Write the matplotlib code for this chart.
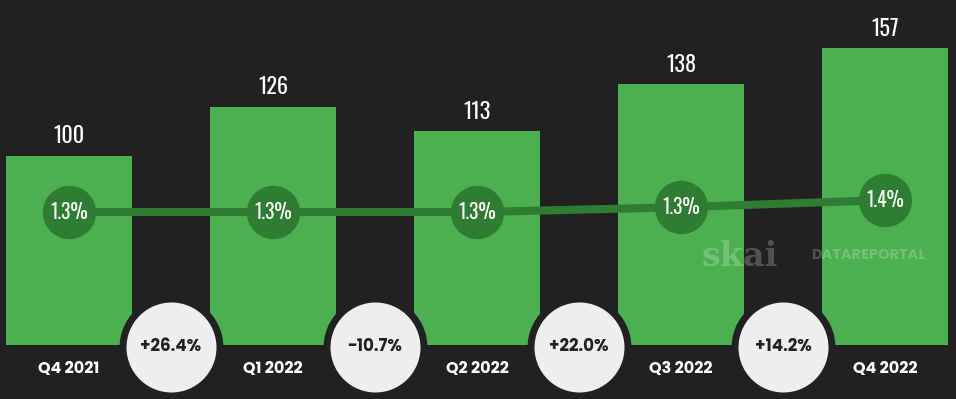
"""
Quarterly index chart with overlay rate line and change bubbles.
"""
import matplotlib
matplotlib.use("Agg")
import matplotlib.pyplot as plt
from matplotlib import font_manager

# ── Data ──────────────────────────────────────────────────────────────────────
quarters     = ["Q4 2021", "Q1 2022", "Q2 2022", "Q3 2022", "Q4 2022"]
index_values = [100, 126, 113, 138, 157]
rate_values  = [1.30, 1.30, 1.30, 1.34, 1.40]
rate_labels  = ["1.3%", "1.3%", "1.3%", "1.3%", "1.4%"]
changes      = ["+26.4%", "-10.7%", "+22.0%", "+14.2%"]

# ── Style ─────────────────────────────────────────────────────────────────────
BG        = "#212121"
BAR_GREEN = "#4caf50"
DARK      = "#2e7d32"
BUBBLE    = "#eeeeee"


def pick(*fams):
    names = {f.name for f in font_manager.fontManager.ttflist}
    for f in fams:
        if f in names:
            return f
    return "DejaVu Sans"


NARROW = pick("Oswald", "Roboto Condensed", "Archivo Narrow", "Asap Condensed")
BOLD   = pick("Poppins", "Lato")

fig = plt.figure(figsize=(9.56, 3.99), dpi=100, facecolor=BG)
ax = fig.add_axes([0, 0, 1, 1])
ax.set_facecolor(BG)
ax.axis("off")

x = list(range(len(quarters)))
ax.bar(x, index_values, width=0.617, color=BAR_GREEN, zorder=1)
ax.set_xlim(-0.338, 4.348)
ax.set_ylim(-28.6, 182.5)

for xi, v in zip(x, index_values):
    ax.text(xi, v + 4.5, f"{v}", ha="center", va="bottom", color="white",
            fontsize=16, family=NARROW, fontweight="light", zorder=5)

for xi, q in zip(x, quarters):
    ax.text(xi, -12.5, q, ha="center", va="center", color="white",
            fontsize=11.5, fontweight="bold", family=BOLD, zorder=5)

# change bubbles between bars
mids = [i + 0.5 for i in range(len(changes))]
ax.scatter(mids, [-1] * len(mids), s=69.8 ** 2, color=BUBBLE,
           edgecolor=BG, linewidth=5.0, zorder=3)
for m, c in zip(mids, changes):
    ax.text(m, -1, c, ha="center", va="center", color=BG,
            fontsize=12, fontweight="bold", family=BOLD, zorder=4)

# watermark
ax.text(3.29, 47, "skai", ha="center", va="center", color="white", alpha=0.22,
        fontsize=24, fontweight="bold", family="DejaVu Serif", zorder=2)
ax.text(3.92, 47, "DATAREPORTAL", ha="center", va="center", color="white",
        alpha=0.22, fontsize=10.5, fontweight="bold", family=BOLD, zorder=2)

# rate line on its own scale
ax2 = ax.twinx()
ax2.axis("off")
ax2.set_ylim(-0.258, 3.067)
ax2.plot(x, rate_values, color=DARK, linewidth=5.8, zorder=2)
ax2.scatter(x, rate_values, s=37.4 ** 2, color=DARK, zorder=3)
for xi, r, lab in zip(x, rate_values, rate_labels):
    ax2.text(xi, r, lab, ha="center", va="center", color="white",
             fontsize=14, family=NARROW, fontweight="light", zorder=4)

fig.savefig("out.png", dpi=100, facecolor=BG)
